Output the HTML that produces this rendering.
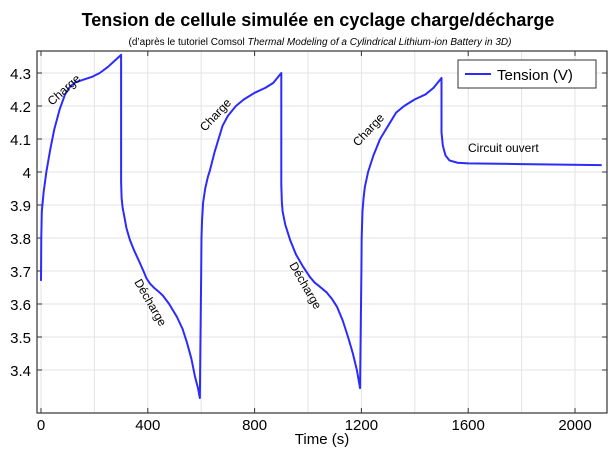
<!DOCTYPE html>
<html><head><style>
body{margin:0;background:#fff;width:610px;height:447px;overflow:hidden}
svg text{font-family:"Liberation Sans","DejaVu Sans",sans-serif}
</style></head><body>
<svg width="610" height="447" viewBox="0 0 610 447">
<text x="318" y="26" text-anchor="middle" font-size="18" font-weight="bold" fill="#000">Tension de cellule simulée en cyclage charge/décharge</text>
<text x="320" y="45" text-anchor="middle" font-size="10" fill="#000">(d’après le tutoriel Comsol <tspan font-style="italic">Thermal Modeling of a Cylindrical Lithium-ion Battery in 3D)</tspan></text>
<g stroke="#e3e3e3" stroke-width="1">
<line x1="41" y1="51" x2="41" y2="413"/><line x1="94.4" y1="51" x2="94.4" y2="413"/><line x1="147.8" y1="51" x2="147.8" y2="413"/><line x1="201.2" y1="51" x2="201.2" y2="413"/><line x1="254.6" y1="51" x2="254.6" y2="413"/><line x1="308" y1="51" x2="308" y2="413"/><line x1="361.4" y1="51" x2="361.4" y2="413"/><line x1="414.8" y1="51" x2="414.8" y2="413"/><line x1="468.2" y1="51" x2="468.2" y2="413"/><line x1="521.6" y1="51" x2="521.6" y2="413"/><line x1="575" y1="51" x2="575" y2="413"/>
<line x1="37" y1="73" x2="607" y2="73"/><line x1="37" y1="106" x2="607" y2="106"/><line x1="37" y1="139" x2="607" y2="139"/><line x1="37" y1="172" x2="607" y2="172"/><line x1="37" y1="205" x2="607" y2="205"/><line x1="37" y1="238" x2="607" y2="238"/><line x1="37" y1="271" x2="607" y2="271"/><line x1="37" y1="304" x2="607" y2="304"/><line x1="37" y1="337" x2="607" y2="337"/><line x1="37" y1="370" x2="607" y2="370"/>
</g>
<rect x="37" y="51" width="570" height="362" fill="none" stroke="#333" stroke-width="1.2"/>
<g stroke="#333" stroke-width="1">
<line x1="41" y1="413" x2="41" y2="408"/><line x1="147.8" y1="413" x2="147.8" y2="408"/><line x1="254.6" y1="413" x2="254.6" y2="408"/><line x1="361.4" y1="413" x2="361.4" y2="408"/><line x1="468.2" y1="413" x2="468.2" y2="408"/><line x1="575" y1="413" x2="575" y2="408"/>
<line x1="41" y1="51" x2="41" y2="56"/><line x1="147.8" y1="51" x2="147.8" y2="56"/><line x1="254.6" y1="51" x2="254.6" y2="56"/><line x1="361.4" y1="51" x2="361.4" y2="56"/><line x1="468.2" y1="51" x2="468.2" y2="56"/><line x1="575" y1="51" x2="575" y2="56"/>
<line x1="37" y1="73" x2="42" y2="73"/><line x1="37" y1="106" x2="42" y2="106"/><line x1="37" y1="139" x2="42" y2="139"/><line x1="37" y1="172" x2="42" y2="172"/><line x1="37" y1="205" x2="42" y2="205"/><line x1="37" y1="238" x2="42" y2="238"/><line x1="37" y1="271" x2="42" y2="271"/><line x1="37" y1="304" x2="42" y2="304"/><line x1="37" y1="337" x2="42" y2="337"/><line x1="37" y1="370" x2="42" y2="370"/>
<line x1="607" y1="73" x2="602" y2="73"/><line x1="607" y1="106" x2="602" y2="106"/><line x1="607" y1="139" x2="602" y2="139"/><line x1="607" y1="172" x2="602" y2="172"/><line x1="607" y1="205" x2="602" y2="205"/><line x1="607" y1="238" x2="602" y2="238"/><line x1="607" y1="271" x2="602" y2="271"/><line x1="607" y1="304" x2="602" y2="304"/><line x1="607" y1="337" x2="602" y2="337"/><line x1="607" y1="370" x2="602" y2="370"/>
</g>
<g font-size="15" fill="#000" text-anchor="end">
<text x="31" y="79">4.3</text><text x="31" y="112">4.2</text><text x="31" y="145">4.1</text><text x="31" y="178">4</text><text x="31" y="211">3.9</text><text x="31" y="244">3.8</text><text x="31" y="277">3.7</text><text x="31" y="310">3.6</text><text x="31" y="343">3.5</text><text x="31" y="376">3.4</text>
</g>
<g font-size="15" fill="#000" text-anchor="middle">
<text x="41" y="430">0</text><text x="147.8" y="430">400</text><text x="254.6" y="430">800</text><text x="361.4" y="430">1200</text><text x="468.2" y="430">1600</text><text x="575" y="430">2000</text>
<text x="322" y="444">Time (s)</text>
</g>
<g transform="translate(41,73) scale(0.267,-330)">
<polyline fill="none" stroke="#2b2bff" stroke-width="2" stroke-linejoin="round" vector-effect="non-scaling-stroke" points="
0,-0.63 1,-0.5 3,-0.42 10,-0.36 20,-0.3 35,-0.23 50,-0.17 70,-0.11 90,-0.065 110,-0.04 130,-0.028 160,-0.02 190,-0.012 220,0 250,0.018 280,0.04 300,0.055
300,-0.33 302,-0.38 306,-0.41 311,-0.43 320,-0.47 333,-0.506 350,-0.54 370,-0.575 382,-0.597 395,-0.622 408,-0.638 425,-0.652 440,-0.662 457,-0.675 480,-0.7 509,-0.739 530,-0.775 547,-0.818 563,-0.865 577,-0.921 588,-0.955 595,-0.985
600,-0.6 601,-0.5 603,-0.45 607,-0.394 615,-0.35 625,-0.315 633,-0.294 650,-0.24 665,-0.2 680,-0.16 700,-0.13 730,-0.1 760,-0.08 800,-0.06 840,-0.045 870,-0.03 900,0
900,-0.34 902,-0.39 905,-0.42 915,-0.46 933,-0.506 955,-0.55 980,-0.585 1007,-0.618 1025,-0.635 1045,-0.648 1070,-0.665 1090,-0.685 1109,-0.709 1130,-0.75 1150,-0.8 1168,-0.85 1183,-0.9 1195,-0.955
1200,-0.6 1201,-0.5 1204,-0.42 1208,-0.38 1213,-0.345 1225,-0.3 1245,-0.25 1270,-0.2 1300,-0.16 1330,-0.12 1360,-0.1 1400,-0.08 1440,-0.065 1470,-0.045 1500,-0.015
1500,-0.18 1505,-0.22 1515,-0.25 1530,-0.265 1560,-0.272 1600,-0.274 1800,-0.276 2100,-0.279"/>
</g>
<g font-size="12" fill="#000">
<text transform="translate(52,106) rotate(-42)">Charge</text>
<text transform="translate(205,132) rotate(-47)">Charge</text>
<text transform="translate(358,147) rotate(-47)">Charge</text>
<text transform="translate(134,282) rotate(60)">Décharge</text>
<text transform="translate(289,265) rotate(60)">Décharge</text>
<text x="468" y="152">Circuit ouvert</text>
</g>
<rect x="458" y="60" width="138" height="28" fill="#fff" stroke="#333" stroke-width="1"/>
<line x1="465" y1="74" x2="491" y2="74" stroke="#2b2bff" stroke-width="2"/>
<text x="497" y="80" font-size="15" fill="#000">Tension (V)</text>
</svg>
</body></html>
